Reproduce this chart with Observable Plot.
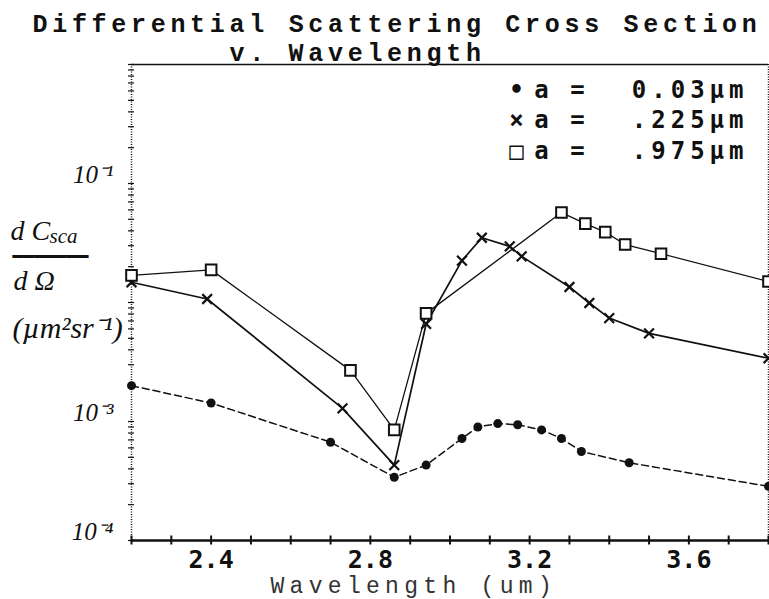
<!DOCTYPE html>
<html><head><meta charset="utf-8">
<script src="https://cdn.jsdelivr.net/npm/d3@7"></script>
<script src="https://cdn.jsdelivr.net/npm/@observablehq/plot@0.6"></script>
<style>body{margin:0;background:#fff}#chart{width:769px;height:599px}</style>
</head><body><div id="chart"></div>
<script>
// ---- text ----
const titleLines = ["Differential Scattering Cross Section", "v. Wavelength"];
const xLabel = "Wavelength (um)";
const yLabelParts = ["d C", "sca", "━━━━━━━", "d Ω", "(µm²sr⁻¹)"];
const legendSymbols = ["•", "×", "□"];
const legendNames = ["a", "a", "a"];
const legendValues = ["0.03µm", ".225µm", ".975µm"];

// ---- scales / ticks ----
const xDomain = [2.2, 3.8];
const yDomain = [1e-4, 1];
const xTickValues = [2.4, 2.8, 3.2, 3.6];
const xMinorTicks = [2.2, 2.3, 2.4, 2.5, 2.6, 2.7, 2.8, 2.9, 3.0, 3.1, 3.2, 3.3, 3.4, 3.5, 3.6, 3.7, 3.8];
const yTickValues = [1e-4, 1e-3, 1e-1];
const yTickLabels = ["10⁻⁴", "10⁻³", "10⁻¹"];
const yMinorMantissas = [1, 2, 3, 4, 5, 6, 7, 8, 9];
const yDecades = [1e-4, 1e-3, 1e-2, 1e-1];

// ---- data: a = 0.03 µm (dots, dashed) ----
const wl03 = [2.2, 2.4, 2.7, 2.86, 2.94, 3.03, 3.07, 3.12, 3.17, 3.23, 3.28, 3.33, 3.45, 3.8];
const cs03 = [2.0e-3, 1.43e-3, 6.7e-4, 3.4e-4, 4.3e-4, 7.2e-4, 9.0e-4, 9.6e-4, 9.4e-4, 8.5e-4, 7.2e-4, 5.6e-4, 4.5e-4, 2.85e-4];
// ---- a = .225 µm (crosses) ----
const wl225 = [2.2, 2.39, 2.73, 2.86, 2.94, 3.03, 3.08, 3.15, 3.18, 3.30, 3.35, 3.40, 3.50, 3.8];
const cs225 = [1.48e-2, 1.07e-2, 1.29e-3, 4.3e-4, 6.6e-3, 2.25e-2, 3.5e-2, 2.96e-2, 2.44e-2, 1.35e-2, 9.9e-3, 7.4e-3, 5.5e-3, 3.4e-3];
// ---- a = .975 µm (squares) ----
const wl975 = [2.2, 2.4, 2.75, 2.86, 2.94, 3.28, 3.34, 3.39, 3.44, 3.53, 3.8];
const cs975 = [1.69e-2, 1.88e-2, 2.69e-3, 8.5e-4, 8.1e-3, 5.7e-2, 4.6e-2, 3.9e-2, 3.07e-2, 2.57e-2, 1.50e-2];

const s1 = wl03.map((x, i) => ({x, y: cs03[i]}));
const s2 = wl225.map((x, i) => ({x, y: cs225[i]}));
const s3 = wl975.map((x, i) => ({x, y: cs975[i]}));
const yMinorTicks = yDecades.flatMap(d => yMinorMantissas.map(m => m * d)).concat([yDomain[1]]);

const ink = "#111";
const hand = "Liberation Serif";
const mono = "DejaVu Sans Mono";

const chart = Plot.plot({
  width: 769, height: 599,
  marginLeft: 131, marginRight: 1, marginTop: 64, marginBottom: 59,
  style: {background: "white", color: ink, fontFamily: "Liberation Sans"},
  x: {domain: xDomain},
  y: {type: "log", domain: yDomain},
  marks: [
    // frame
    Plot.ruleY([yDomain[1]], {stroke: ink, strokeWidth: 1.5}),
    Plot.ruleX([xDomain[1]], {stroke: ink, strokeWidth: 1.5, strokeDasharray: "1,1.5"}),
    Plot.ruleX([xDomain[0]], {stroke: ink, strokeWidth: 1.5, strokeDasharray: "1,1.5"}),
    Plot.ruleY([yDomain[0]], {stroke: ink, strokeWidth: 2.5}),
    // axes
    Plot.axisY(yMinorTicks, {tickSize: 6, dx: 3, stroke: ink, strokeWidth: 1.2, tickFormat: () => "", label: null}),
    Plot.axisY(yTickValues, {tickSize: 0, tickPadding: 18, dy: -9, tickFormat: d => yTickLabels[yTickValues.indexOf(d)],
      fontFamily: hand, fontStyle: "italic", fontSize: 25, label: null}),
    Plot.axisX(xMinorTicks, {tickSize: 9, dy: -4.5, stroke: ink, strokeWidth: 2, tickFormat: () => "", label: null}),
    Plot.axisX(xTickValues, {tickSize: 0, tickPadding: 10, tickFormat: d => d.toFixed(1),
      fontFamily: mono, fontWeight: "bold", fontSize: 25, label: null}),
    // series
    Plot.line(s1, {x: "x", y: "y", stroke: ink, strokeWidth: 1.5, strokeDasharray: "7,4"}),
    Plot.dot(s1, {x: "x", y: "y", r: 4.5, fill: ink, stroke: "none"}),
    Plot.line(s2, {x: "x", y: "y", stroke: ink, strokeWidth: 1.7}),
    Plot.dot(s2, {x: "x", y: "y", symbol: "times", r: 4.5, stroke: ink, strokeWidth: 2.2}),
    Plot.line(s3, {x: "x", y: "y", stroke: ink, strokeWidth: 1.3}),
    Plot.dot(s3, {x: "x", y: "y", symbol: "square", r: 6, fill: "white", stroke: ink, strokeWidth: 2}),
    // title
    Plot.text([titleLines[0]], {text: d => d, frameAnchor: "top-left", dx: -99, dy: -33, textAnchor: "start",
      lineAnchor: "bottom", fontFamily: "Liberation Mono", fontWeight: "bold", fontSize: 25, fill: ink, ariaDescription: "title"}),
    Plot.text([titleLines[1]], {text: d => d, frameAnchor: "top-left", dx: 98, dy: -4, textAnchor: "start",
      lineAnchor: "bottom", fontFamily: "Liberation Mono", fontWeight: "bold", fontSize: 25, fill: ink, ariaDescription: "title"}),
    // x label
    Plot.text([xLabel], {text: d => d, frameAnchor: "bottom-left", dx: 139, dy: 52, textAnchor: "start",
      lineAnchor: "bottom", fontFamily: "Liberation Mono", fontSize: 23, fill: "#333", ariaDescription: "xlabel"}),
    // y label (handwritten)
    Plot.text([yLabelParts[0]], {text: d => d, frameAnchor: "top-left", dx: -121, dy: 175, textAnchor: "start",
      lineAnchor: "bottom", fontFamily: hand, fontStyle: "italic", fontSize: 28, fill: ink}),
    Plot.text([yLabelParts[1]], {text: d => d, frameAnchor: "top-left", dx: -82, dy: 178, textAnchor: "start",
      lineAnchor: "bottom", fontFamily: hand, fontStyle: "italic", fontSize: 21, fill: ink}),
    Plot.text([yLabelParts[2]], {text: d => d, frameAnchor: "top-left", dx: -119, dy: 198, textAnchor: "start",
      lineAnchor: "bottom", fontFamily: mono, fontSize: 18, fill: ink}),
    Plot.text([yLabelParts[3]], {text: d => d, frameAnchor: "top-left", dx: -118, dy: 225, textAnchor: "start",
      lineAnchor: "bottom", fontFamily: hand, fontStyle: "italic", fontSize: 28, fill: ink}),
    Plot.text([yLabelParts[4]], {text: d => d, frameAnchor: "top-left", dx: -119, dy: 273, textAnchor: "start",
      lineAnchor: "bottom", fontFamily: hand, fontStyle: "italic", fontSize: 30, fill: ink}),
    // legend
    Plot.text([legendSymbols.join("\n")], {text: d => d, frameAnchor: "top-left", dx: 385, dy: 94, textAnchor: "middle",
      lineAnchor: "bottom", lineHeight: 1.27, fontFamily: mono, fontWeight: "bold", fontSize: 24, fill: ink}),
    Plot.text([legendNames.join("\n")], {text: d => d, frameAnchor: "top-left", dx: 410, dy: 94, textAnchor: "middle",
      lineAnchor: "bottom", lineHeight: 1.27, fontFamily: mono, fontWeight: "bold", fontSize: 24, fill: ink}),
    Plot.text([legendNames.map(() => "=").join("\n")], {text: d => d, frameAnchor: "top-left", dx: 446, dy: 94, textAnchor: "middle",
      lineAnchor: "bottom", lineHeight: 1.27, fontFamily: mono, fontWeight: "bold", fontSize: 24, fill: ink}),
    Plot.text([legendValues.join("\n")], {text: d => d, frameAnchor: "top-left", dx: 617, dy: 94, textAnchor: "end",
      lineAnchor: "bottom", lineHeight: 1.27, fontFamily: mono, fontWeight: "bold", fontSize: 24, fill: ink, ariaDescription: "legendvalues"})
  ]
});
document.getElementById("chart").appendChild(chart);
const svg = d3.select(chart);
svg.selectAll('g[aria-description="title"] text').style("letter-spacing", "4.7px");
svg.selectAll('g[aria-description="xlabel"] text').style("letter-spacing", "5.3px");
svg.selectAll('g[aria-description="legendvalues"] text').style("letter-spacing", "5px");
</script>
</body></html>
